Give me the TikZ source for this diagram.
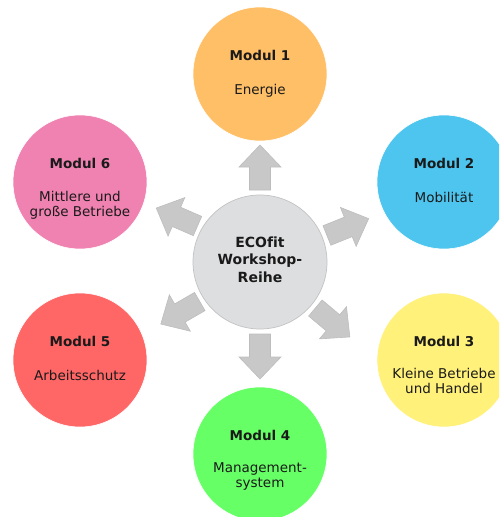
\documentclass[tikz,border=0pt]{standalone}
\usepackage{fontspec}
\setmainfont{DejaVu Sans}[Ligatures=NoCommon]
\usetikzlibrary{calc}
\definecolor{cOrange}{HTML}{FFBF66}
\definecolor{cBlue}{HTML}{4DC5EE}
\definecolor{cYellow}{HTML}{FFF17A}
\definecolor{cGreen}{HTML}{66FF66}
\definecolor{cRed}{HTML}{FF6666}
\definecolor{cPink}{HTML}{EF82B1}
\definecolor{centerfill}{HTML}{DDDEE0}
\definecolor{centeredge}{HTML}{C2C2C2}
\definecolor{arrowgray}{HTML}{C8C8C8}
\definecolor{arrowedge}{HTML}{BDBDBD}
\definecolor{txt}{HTML}{1A1A1A}
\begin{document}
\begin{tikzpicture}[x=1pt,y=1pt,
  modcircle/.style={circle, minimum size=134pt, inner sep=0pt, draw=white, line width=0.6pt},
  modtitle/.style={anchor=base, inner sep=0pt, font=\fontsize{13.5}{16}\selectfont\bfseries, text=txt},
  moddesc/.style={anchor=base, inner sep=0pt, align=center, font=\fontsize{13.5}{15.5}\selectfont, text=txt},
  centertext/.style={anchor=base, inner sep=0pt, align=center, font=\fontsize{14}{17.5}\selectfont\bfseries, text=txt},
  blockarrow/.style={fill=arrowgray, draw=arrowedge, line width=0.6pt, line join=miter}]
\useasboundingbox (0,0) rectangle (499,-517);
\clip (0,0) rectangle (499,-517);
% module circles
\node[modcircle, fill=cOrange] (m1) at (260,-74) {};
\node[modcircle, fill=cBlue]   (m2) at (444,-182) {};
\node[modcircle, fill=cYellow] (m3) at (444,-360) {};
\node[modcircle, fill=cGreen]  (m4) at (260,-454) {};
\node[modcircle, fill=cRed]    (m5) at (80,-360) {};
\node[modcircle, fill=cPink]   (m6) at (80,-182) {};
% center circle
\node[circle, minimum size=134pt, inner sep=0pt, fill=centerfill, draw=centeredge, line width=0.7pt] (c) at (260,-262) {};
\node[centertext] (ct) at ($(c.center)+(0,-20)$) {ECOfit\\Workshop-\\Reihe};
% arrows: position angle / direction angle
\foreach \pa/\da in {90/90, 21.7/22, -39.8/-40, -90/-90, 212.5/210, 151.6/156.5}{
  \begin{scope}[shift={($(c.center)+(\pa:94.5)$)}, rotate=\da]
    \draw[blockarrow] (-22.5,-10.5) -- (0.5,-10.5) -- (0.5,-21) -- (22.5,0) -- (0.5,21) -- (0.5,10.5) -- (-22.5,10.5) -- cycle;
  \end{scope}
}
% titles
\node[modtitle] (t1) at ($(m1.center)+(0,14)$) {Modul 1};
\node[modtitle] (t2) at ($(m2.center)+(0,14)$) {Modul 2};
\node[modtitle] (t3) at ($(m3.center)+(0,14)$) {Modul 3};
\node[modtitle] (t4) at ($(m4.center)+(0,14)$) {Modul 4};
\node[modtitle] (t5) at ($(m5.center)+(0,14)$) {Modul 5};
\node[modtitle] (t6) at ($(m6.center)+(0,14)$) {Modul 6};
% descriptions
\node[moddesc] (d1) at ($(m1.center)+(0,-20)$) {Energie};
\node[moddesc] (d2) at ($(m2.center)+(0,-20)$) {Mobilität};
\node[moddesc] (d3) at ($(m3.center)+(0,-33.5)$) {Kleine Betriebe\\und Handel};
\node[moddesc] (d4) at ($(m4.center)+(0,-33.5)$) {Management-\\system};
\node[moddesc] (d5) at ($(m5.center)+(0,-20)$) {Arbeitsschutz};
\node[moddesc] (d6) at ($(m6.center)+(0,-34.5)$) {Mittlere und\\große Betriebe};
\end{tikzpicture}
\end{document}
